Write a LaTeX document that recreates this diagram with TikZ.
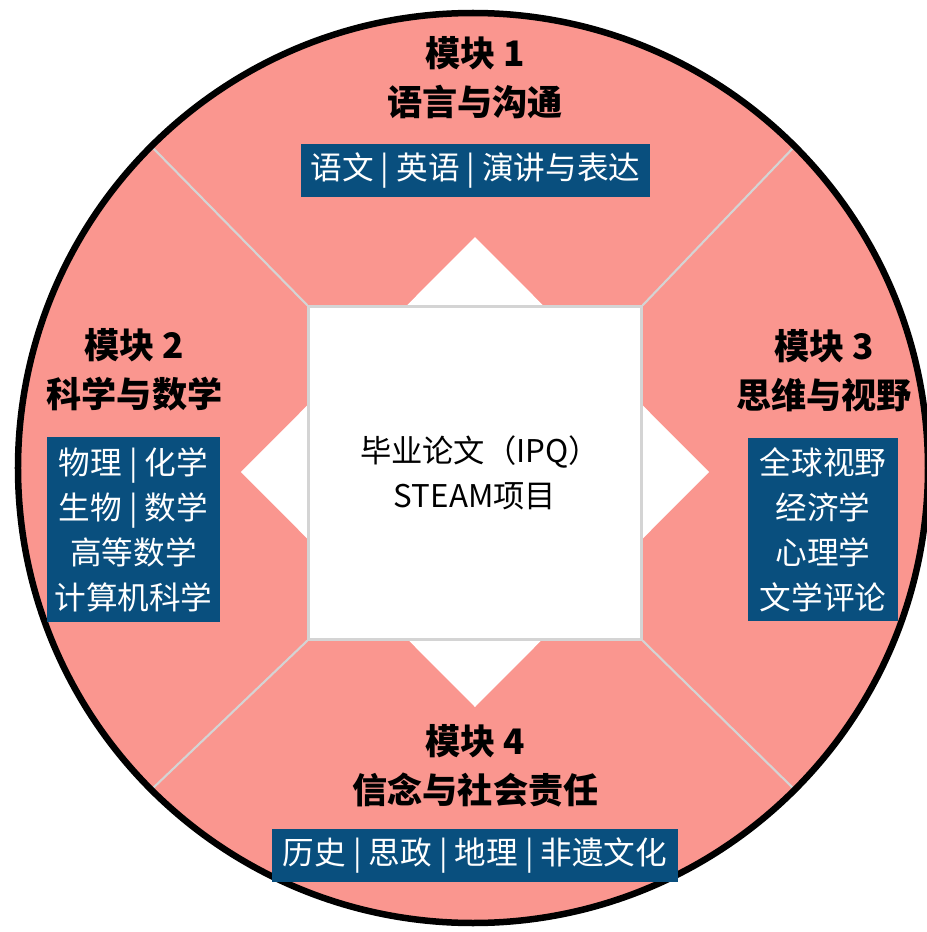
\documentclass[tikz,border=0pt]{standalone}
\usepackage{fontspec}
\setmainfont{Noto Sans CJK SC}
\usepackage{xcolor}
\usetikzlibrary{positioning,calc}

\definecolor{salmon}{RGB}{250,150,143}
\definecolor{boxblue}{RGB}{9,79,126}
\definecolor{rimgray}{RGB}{212,212,212}

\tikzset{
    modtitle/.style={font=\bfseries\fontsize{20}{28}\selectfont, align=center},
    subjectbox/.style={fill=boxblue, text=white, inner sep=0pt, align=center,
        font=\fontsize{18}{25.6}\selectfont},
    divider/.style={draw=rimgray, line width=1.2pt},
}

\begin{document}
\begin{tikzpicture}
        \useasboundingbox (-9.46,-9.28) rectangle (9.06,9.36);

        % Wheel
        \fill[salmon] (0,0) circle (9.1);
        \fill[white] (0.04,4.62) -- (4.72,-0.08) -- (0.04,-4.78) -- (-4.64,-0.08) -- cycle; % Diamond
        \node[draw=rimgray, line width=1.2pt, fill=white, minimum size=6.66cm,
            align=center, font=\fontsize{17.8}{25.6}\selectfont] (core) at (0.04,-0.1)
            {\hspace*{0.2cm}毕业论文（IPQ）\\STEAM项目};
        \draw[divider] (core.north west) -- (135:9.1);
        \draw[divider] (core.north east) -- (45:9.1);
        \draw[divider] (core.south west) -- (225:9.1);
        \draw[divider] (core.south east) -- (315:9.1);
        \draw[line width=3.7pt] (0,0) circle (9.1); % Rim

        % Module 1
        \node[modtitle] (m1) at (0.04,7.81) {模块 1\\语言与沟通};
        \node[subjectbox, minimum width=6.98cm, minimum height=1.06cm] (b1) at (0.05,5.95)
            {语文 | 英语 | 演讲与表达};

        % Module 2
        \node[modtitle] (m2) at (-6.77,1.97) {模块 2\\科学与数学};
        \node[subjectbox, minimum width=3.46cm, minimum height=3.7cm] (b2) at (-6.79,-1.23)
            {物理 | 化学\\生物 | 数学\\高等数学\\计算机科学};

        % Module 3
        \node[modtitle] (m3) at (7.02,1.95) {模块 3\\思维与视野};
        \node[subjectbox, minimum width=3.0cm, minimum height=3.66cm] (b3) at (7.0,-1.23)
            {全球视野\\经济学\\心理学\\文学评论};

        % Module 4
        \node[modtitle] (m4) at (0.05,-5.96) {模块 4\\信念与社会责任};
        \node[subjectbox, minimum width=8.12cm, minimum height=1.06cm] (b4) at (0.04,-7.75)
            {历史 | 思政 | 地理 | 非遗文化};
    \end{tikzpicture}
\end{document}
